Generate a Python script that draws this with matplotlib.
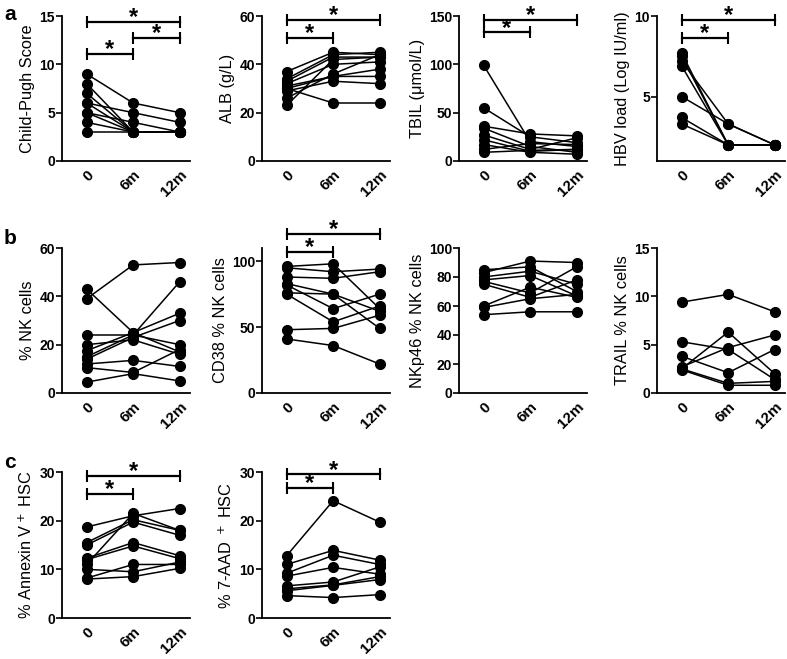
import numpy as np
import matplotlib
matplotlib.use("Agg")
import matplotlib.pyplot as plt

plt.rcParams['font.family'] = ['Liberation Sans', 'DejaVu Sans']

timepoints = ["0", "6m", "12m"]

# each row = one patient (0, 6m, 12m)
child_pugh = [[9, 6, 5], [8, 3, 3], [7, 3, 3], [6, 5, 4], [6, 3, 3],
              [5, 4, 3], [5, 3, 3], [4, 3, 3], [3, 3, 3]]
alb = [[37, 45, 44], [34, 44, 45], [33, 43, 43], [32, 40, 41], [31, 35, 38],
       [30, 35, 35], [29, 33, 32], [30, 24, 24], [23, 42, 43], [26, 36, 44]]
tbil = [[99, 20, 15], [55, 25, 19], [36, 28, 26], [34, 15, 9], [27, 12, 24],
        [22, 10, 12], [17, 9, 7], [12, 18, 17], [9, 11, 12]]
hbv = [[7.7, 2.0, 2.0], [7.5, 2.0, 2.0], [7.2, 3.3, 2.0], [6.9, 2.0, 2.0],
       [5.0, 3.3, 2.0], [3.7, 2.0, 2.0], [3.3, 2.0, 2.0]]
nk = [[39, 53, 54], [43, 25, 17], [24, 24, 20], [20, 22, 16], [17.5, 25, 33],
      [15, 24, 46], [12, 13.5, 11], [10.5, 8.5, 18], [4.5, 8, 5], [14, 23, 30]]
cd38 = [[96, 98, 64], [95, 92, 94], [88, 87, 92], [83, 75, 62], [82, 64, 75],
        [76, 75, 49], [75, 54, 66], [48, 49, 59], [41, 36, 22]]
nkp46 = [[85, 87, 70], [83, 91, 90], [80, 84, 75], [78, 81, 67], [77, 69, 87],
         [75, 66, 78], [60, 73, 66], [59, 65, 68], [54, 56, 56]]
trail = [[9.4, 10.2, 8.4], [5.3, 4.5, 1.4], [3.8, 2.1, 4.5], [2.5, 6.3, 2.0],
         [2.7, 4.7, 6.0], [2.5, 1.0, 1.2], [2.4, 0.8, 0.8]]
annexin = [[18.7, 21, 22.5], [15.5, 20.2, 18], [15, 19.7, 17], [12.3, 15.5, 12.8],
           [12, 14.8, 12.2], [11, 21.5, 18], [10, 9.5, 11.5], [8.2, 11, 11],
           [8, 8.5, 10.2]]
aad = [[12.8, 24.1, 19.7], [11, 13.9, 11.9], [9.2, 12.9, 11], [8.6, 10.4, 9],
       [6.6, 7.4, 10.5], [5.6, 6.7, 7.9], [4.6, 4.2, 4.8], [6.0, 6.8, 8.5]]

panels = [
    # data, ylabel, ylim, yticks, brackets (x0, x1, y), row, col
    (child_pugh, "Child-Pugh Score", (0, 15), [0, 5, 10, 15],
     [(0, 2, 14.4), (0, 1, 11.1), (1, 2, 12.7)], 0, 0),
    (alb, "ALB (g/L)", (0, 60), [0, 20, 40, 60],
     [(0, 2, 58.4), (0, 1, 51)], 0, 1),
    (tbil, "TBIL (\u03bcmol/L)", (0, 150), [0, 50, 100, 150],
     [(0, 2, 146), (0, 1, 133)], 0, 2),
    (hbv, "HBV load (Log IU/ml)", (1, 10), [5, 10],
     [(0, 2, 9.75), (0, 1, 8.65)], 0, 3),
    (nk, "% NK cells", (0, 60), [0, 20, 40, 60], [], 1, 0),
    (cd38, "CD38 % NK cells", (0, 110), [0, 50, 100],
     [(0, 2, 120.5), (0, 1, 107)], 1, 1),
    (nkp46, "NKp46 % NK cells", (0, 100), [0, 20, 40, 60, 80, 100], [], 1, 2),
    (trail, "TRAIL % NK cells", (0, 15), [0, 5, 10, 15], [], 1, 3),
    (annexin, "% Annexin V$^+$ HSC", (0, 30), [0, 10, 20, 30],
     [(0, 2, 29.2), (0, 1, 25.5)], 2, 0),
    (aad, "% 7-AAD $^+$ HSC", (0, 30), [0, 10, 20, 30],
     [(0, 2, 29.5), (0, 1, 26.7)], 2, 1),
]

W, H = 787, 659
fig = plt.figure(figsize=(W / 100, H / 100), dpi=100)

lefts = [62, 262, 459, 657]
rows = [(16, 161), (248, 393), (472, 618)]
xmin, xmax = -0.53, 2.22
ax_w = (xmax - xmin) * 46.5

for data, ylabel, ylim, yticks, brackets, r, c in panels:
    top, bot = rows[r]
    ax = fig.add_axes([lefts[c] / W, 1 - bot / H, ax_w / W, (bot - top) / H])
    x = np.arange(3)
    for vals in data:
        ax.plot(x, vals, '-o', color='black', lw=1.1, ms=7, clip_on=False, zorder=3)
    ax.set_xlim(xmin, xmax)
    ax.set_ylim(*ylim)
    ax.set_yticks(yticks)
    ax.set_xticks(x)
    ax.set_xticklabels(timepoints, rotation=45, ha='right', rotation_mode='anchor',
                       fontsize=11, fontweight='bold')
    for lab in ax.get_yticklabels():
        lab.set_fontweight('bold')
        lab.set_fontsize(10)
    ax.tick_params(axis='x', length=0, pad=5)
    ax.tick_params(axis='y', length=4, width=1.2, pad=1)
    ax.set_ylabel(ylabel, fontsize=11.8, labelpad=3)
    for s in ['top', 'right']:
        ax.spines[s].set_visible(False)
    for s in ['left', 'bottom']:
        ax.spines[s].set_linewidth(1.3)
    for x0, x1, y in brackets:
        ax.plot([x0, x1], [y, y], '-', marker='|', ms=9, mew=1.5, lw=1.6,
                color='black', clip_on=False)
        ax.annotate('*', xy=((x0 + x1) / 2, y), xytext=(0, -1.5),
                    textcoords='offset points', ha='center', va='baseline',
                    fontsize=17, fontweight='bold', annotation_clip=False)

for letter, ypx in [('a', 14), ('b', 238), ('c', 462)]:
    fig.text(4 / W, 1 - ypx / H, letter, fontsize=15, fontweight='bold', va='center')

fig.savefig("out.png", dpi=100)
